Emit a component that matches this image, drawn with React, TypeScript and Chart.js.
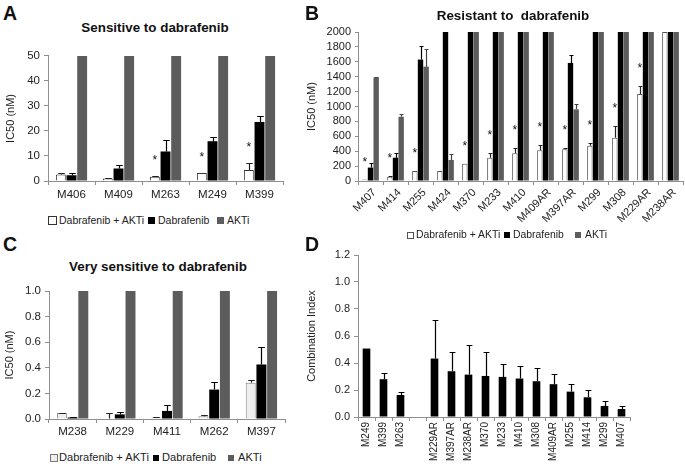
import React, { useEffect, useRef } from 'react';
import { Chart, registerables } from 'chart.js';

Chart.register(...registerables);

const FONT = "'Liberation Sans', Arial, Helvetica, sans-serif";
Chart.defaults.font.family = FONT;

const seriesNames = ['Dabrafenib + AKTi', 'Dabrafenib', 'AKTi'];

// ---------- Panel A : Sensitive to dabrafenib ----------
const catsA = ['M406', 'M409', 'M263', 'M249', 'M399'];
const comboA = [2.6, 1.0, 1.7, 3.2, 4.4];
const comboErrA = [0.4, 0.3, 0.2, 0, 2.9];
const dabA = [2.3, 5.0, 11.8, 15.9, 23.6];
const dabErrA = [1.0, 1.4, 4.5, 1.5, 2.3];
const aktiA = [50, 50, 50, 50, 50];
const starsA = [false, false, true, true, true];
const ticksA = [0, 10, 20, 30, 40, 50];

// ---------- Panel B : Resistant to dabrafenib ----------
const catsB = ['M407', 'M414', 'M255', 'M424', 'M370', 'M233', 'M410', 'M409AR', 'M397AR', 'M299', 'M308', 'M229AR', 'M238AR'];
const comboB = [20, 58, 134, 134, 230, 313, 371, 412, 425, 473, 582, 1167, 2000];
const comboErrB = [0, 8, 0, 0, 0, 67, 72, 76, 18, 42, 156, 111, 0];
const dabB = [180, 313, 1630, 2000, 2000, 2000, 2000, 2000, 1585, 2000, 2000, 2000, 2000];
const dabErrB = [56, 58, 185, 0, 0, 0, 0, 0, 110, 0, 0, 0, 0];
const aktiB = [1390, 862, 1535, 282, 2000, 2000, 2000, 2000, 962, 2000, 2000, 2000, 2000];
const aktiErrB = [10, 33, 235, 76, 0, 0, 0, 0, 78, 0, 0, 0, 0];
const starsB = [true, true, true, false, true, true, true, true, true, true, true, true, false];
const ticksB = [0, 200, 400, 600, 800, 1000, 1200, 1400, 1600, 1800, 2000];

// ---------- Panel C : Very sensitive to dabrafenib ----------
const catsC = ['M238', 'M229', 'M411', 'M262', 'M397'];
const comboC = [0.047, 0.003, 0.012, 0.022, 0.284];
const comboErrC = [0.003, 0.047, 0.003, 0.012, 0.02];
const dabC = [0.012, 0.036, 0.063, 0.23, 0.426];
const dabErrC = [0.003, 0.02, 0.045, 0.056, 0.14];
const aktiC = [1, 1, 1, 1, 1];
const ticksC = [0, 0.2, 0.4, 0.6, 0.8, 1.0];

// ---------- Panel D : Combination Index ----------
const catsD = ['M249', 'M399', 'M263', '', 'M229AR', 'M397AR', 'M238AR', 'M370', 'M233', 'M410', 'M308', 'M409AR', 'M255', 'M414', 'M299', 'M407'];
const ciD = [0.507, 0.28, 0.163, null, 0.433, 0.339, 0.314, 0.304, 0.297, 0.285, 0.265, 0.243, 0.188, 0.146, 0.082, 0.059];
const ciErrD = [0, 0.047, 0.023, null, 0.289, 0.141, 0.223, 0.176, 0.099, 0.094, 0.096, 0.079, 0.059, 0.052, 0.039, 0.02];
const ticksD = [0, 0.2, 0.4, 0.6, 0.8, 1.0, 1.2];

const AXIS = '#8f8f8f';
const TXT = '#222';

const errorBarPlugin = {
  id: 'errbars',
  afterDatasetsDraw(chart: any) {
    const { ctx, chartArea } = chart;
    const ys = chart.scales.y;
    ctx.save();
    chart.data.datasets.forEach((ds: any, i: number) => {
      const errs = ds.errors;
      if (!errs) return;
      const meta = chart.getDatasetMeta(i);
      meta.data.forEach((bar: any, j: number) => {
        const v = ds.data[j];
        const e = errs[j];
        if (v == null || !e) return;
        const topRaw = ys.getPixelForValue(v + e);
        if (topRaw < chartArea.top - 0.5) return;
        const top = Math.round(topRaw) + 0.5;
        const x = Math.round(bar.x) + 0.5;
        const half = Math.max(2, bar.width * (ds.capRatio || 0.33));
        ctx.strokeStyle = ds.errorColor || '#000';
        ctx.lineWidth = 1.2;
        ctx.beginPath();
        ctx.moveTo(x, bar.y);
        ctx.lineTo(x, top);
        ctx.moveTo(x - half, top);
        ctx.lineTo(x + half, top);
        ctx.stroke();
      });
      if (ds.stars) {
        ctx.fillStyle = '#111';
        ctx.font = `12px ${FONT}`;
        ctx.textAlign = 'center';
        ctx.textBaseline = 'alphabetic';
        meta.data.forEach((bar: any, j: number) => {
          if (!ds.stars[j]) return;
          const v = ds.data[j] + (errs[j] || 0);
          const top = ys.getPixelForValue(v);
          const cy = top - (ds.starGap || 20);
          ctx.fillText('*', bar.x, cy + 7);
        });
      }
    });
    ctx.restore();
  },
};

type PanelCfg = {
  left: number; top: number; w: number; h: number;
  padTop: number; padRight: number; yW: number; xH: number;
  labels: string[]; datasets: any[]; ticks: number[]; max: number;
  fmt: (v: number) => string; yTitle: string; yTitlePad: number;
  xFont: number; yFont: number; rotation: number; xPad: number; xLabelOffset: number;
  yTickLen: number; yPad: number;
};

function ChartPanel({ cfg }: { cfg: PanelCfg }) {
  const ref = useRef<HTMLCanvasElement | null>(null);
  useEffect(() => {
    if (!ref.current) return;
    const chart = new Chart(ref.current, {
      type: 'bar',
      data: { labels: cfg.labels, datasets: cfg.datasets },
      plugins: [errorBarPlugin],
      options: {
        responsive: false,
        animation: false,
        devicePixelRatio: 1,
        layout: { padding: { top: cfg.padTop, right: cfg.padRight, left: 0, bottom: 0 } },
        plugins: { legend: { display: false }, tooltip: { enabled: false }, title: { display: false } },
        scales: {
          x: {
            type: 'category',
            offset: true,
            grid: { display: true, drawOnChartArea: false, drawTicks: true, tickLength: 4, color: AXIS, tickColor: AXIS, offset: true },
            border: { display: true, color: AXIS, width: 1 },
            ticks: {
              autoSkip: false,
              maxRotation: cfg.rotation,
              minRotation: cfg.rotation,
              padding: cfg.xPad,
              labelOffset: cfg.xLabelOffset,
              color: TXT,
              font: { size: cfg.xFont, family: FONT },
            },
            afterFit: (s: any) => { s.height = cfg.xH; },
          },
          y: {
            type: 'linear',
            min: 0,
            max: cfg.max,
            grid: { display: true, drawOnChartArea: false, drawTicks: true, tickLength: cfg.yTickLen, color: AXIS, tickColor: AXIS },
            border: { display: true, color: AXIS, width: 1 },
            ticks: {
              autoSkip: false,
              padding: cfg.yPad,
              color: TXT,
              font: { size: cfg.yFont, family: FONT },
              callback: (v: any) => cfg.fmt(Number(v)),
            },
            afterBuildTicks: (s: any) => { s.ticks = cfg.ticks.map((v) => ({ value: v })); },
            title: {
              display: true,
              text: cfg.yTitle,
              color: TXT,
              font: { size: 11, family: FONT },
              padding: { top: cfg.yTitlePad, bottom: 0 },
            },
            afterFit: (s: any) => { s.width = cfg.yW; },
          },
        },
      } as any,
    });
    return () => chart.destroy();
  }, [cfg]);
  return (
    <canvas
      ref={ref}
      width={cfg.w}
      height={cfg.h}
      style={{ position: 'absolute', left: cfg.left, top: cfg.top, width: cfg.w, height: cfg.h }}
    />
  );
}

function triple(combo: number[], comboErr: number[], dab: number[], dabErr: number[], akti: number[], aktiErr: number[] | null,
  stars: boolean[] | null, starGap: number, comboFill: string, comboBorder: string, cat: number, bar: number) {
  return [
    { label: seriesNames[0], data: combo, errors: comboErr, stars, starGap, backgroundColor: comboFill, borderColor: comboBorder, borderWidth: 1, categoryPercentage: cat, barPercentage: bar, errorColor: '#222' },
    { label: seriesNames[1], data: dab, errors: dabErr, backgroundColor: '#000', borderWidth: 0, categoryPercentage: cat, barPercentage: bar, errorColor: '#000' },
    { label: seriesNames[2], data: akti, errors: aktiErr, backgroundColor: '#5c5c5c', borderWidth: 0, categoryPercentage: cat, barPercentage: bar, errorColor: '#444' },
  ];
}

const intFmt = (v: number) => String(Math.round(v));
const decFmt = (v: number) => v.toFixed(1);

const cfgA: PanelCfg = {
  left: 0, top: 45, w: 295, h: 160, padTop: 8, padRight: 12, yW: 48, xH: 24,
  labels: catsA, datasets: triple(comboA, comboErrA, dabA, dabErrA, aktiA, null, starsA, 19, '#ffffff', '#333', 0.68, 0.93),
  ticks: ticksA, max: 50, fmt: intFmt, yTitle: 'IC50 (nM)', yTitlePad: 4.4, xFont: 11.5, yFont: 11.5, rotation: 0, xPad: 3, xLabelOffset: 0, yTickLen: 4, yPad: 4,
};
const cfgB: PanelCfg = {
  left: 300, top: 20, w: 385, h: 212, padTop: 12, padRight: 2, yW: 58, xH: 51,
  labels: catsB, datasets: triple(comboB, comboErrB, dabB, dabErrB, aktiB, aktiErrB, starsB, 21, '#ffffff', '#555', 0.68, 0.95),
  ticks: ticksB, max: 2000, fmt: intFmt, yTitle: 'IC50 (nM)', yTitlePad: 5.4, xFont: 11, yFont: 11, rotation: 45, xPad: 1, xLabelOffset: 4, yTickLen: 3, yPad: 4,
};
const cfgC: PanelCfg = {
  left: 0, top: 280, w: 295, h: 165, padTop: 11, padRight: 10, yW: 49, xH: 26,
  labels: catsC, datasets: triple(comboC, comboErrC, dabC, dabErrC, aktiC, null, null, 19, '#eeeeee', '#888', 0.68, 0.93),
  ticks: ticksC, max: 1, fmt: decFmt, yTitle: 'IC50 (nM)', yTitlePad: 3.5, xFont: 11.5, yFont: 11.5, rotation: 0, xPad: 2, xLabelOffset: 0, yTickLen: 4, yPad: 4,
};
const cfgD: PanelCfg = {
  left: 300, top: 240, w: 340, h: 224, padTop: 15, padRight: 10, yW: 58, xH: 47,
  labels: catsD,
  datasets: [{ label: 'Combination Index', data: ciD, errors: ciErrD, backgroundColor: '#000', borderWidth: 0, categoryPercentage: 0.45, barPercentage: 1, errorColor: '#000', capRatio: 0.38 }],
  ticks: ticksD, max: 1.2, fmt: decFmt, yTitle: 'Combination Index', yTitlePad: 5.4, xFont: 10, yFont: 11, rotation: 90, xPad: 1, xLabelOffset: 0, yTickLen: 4, yPad: 4,
};

type LegendItem = { sx: number; size: number; fill: string; border?: string; tx: number; text: string };

function Legend({ y, font, items }: { y: number; font: number; items: LegendItem[] }) {
  return (
    <>
      {items.map((it, i) => (
        <React.Fragment key={i}>
          <div style={{
            position: 'absolute', left: it.sx, top: y - it.size / 2, width: it.size, height: it.size,
            background: it.fill, border: it.border ? `1px solid ${it.border}` : 'none', boxSizing: 'border-box',
          }} />
          <div style={{
            position: 'absolute', left: it.tx, top: y, transform: 'translateY(-50%)', fontSize: font,
            lineHeight: 1, whiteSpace: 'pre', color: TXT,
          }}>{it.text}</div>
        </React.Fragment>
      ))}
    </>
  );
}

function Label({ x, y, size, bold, text, center }: { x: number; y: number; size: number; bold?: boolean; text: string; center?: boolean }) {
  return (
    <div style={{
      position: 'absolute', left: x, top: y, transform: center ? 'translate(-50%, -50%)' : 'translateY(-50%)',
      fontSize: size, fontWeight: bold ? 'bold' : 'normal', lineHeight: 1, whiteSpace: 'pre', color: '#111',
    }}>{text}</div>
  );
}

export default function App() {
  return (
    <div style={{ position: 'absolute', left: 0, top: 0, width: 685, height: 464, background: '#fff', fontFamily: FONT, overflow: 'hidden' }}>
      <ChartPanel cfg={cfgA} />
      <ChartPanel cfg={cfgB} />
      <ChartPanel cfg={cfgC} />
      <ChartPanel cfg={cfgD} />

      <Label x={3} y={14} size={19.5} bold text="A" />
      <Label x={305} y={14} size={19.5} bold text="B" />
      <Label x={3} y={245} size={19.5} bold text="C" />
      <Label x={305} y={245} size={19.5} bold text="D" />

      <Label x={155} y={28} size={13.4} bold center text="Sensitive to dabrafenib" />
      <Label x={513} y={15.5} size={13.4} bold center text="Resistant to  dabrafenib" />
      <Label x={158} y={267} size={13.4} bold center text="Very sensitive to dabrafenib" />

      <Legend y={220} font={10.5} items={[
        { sx: 48, size: 9, fill: '#fff', border: '#333', tx: 59, text: seriesNames[0] },
        { sx: 148, size: 7, fill: '#000', tx: 158, text: seriesNames[1] },
        { sx: 217, size: 7, fill: '#5c5c5c', tx: 227, text: seriesNames[2] },
      ]} />
      <Legend y={235} font={10.4} items={[
        { sx: 407, size: 7, fill: '#fff', border: '#555', tx: 416, text: seriesNames[0] },
        { sx: 504, size: 6, fill: '#000', tx: 513, text: seriesNames[1] },
        { sx: 575, size: 6, fill: '#5c5c5c', tx: 585, text: seriesNames[2] },
      ]} />
      <Legend y={458} font={11.1} items={[
        { sx: 50, size: 8, fill: '#eee', border: '#777', tx: 59, text: seriesNames[0] },
        { sx: 153, size: 6, fill: '#000', tx: 162, text: seriesNames[1] },
        { sx: 228, size: 6, fill: '#5c5c5c', tx: 238, text: seriesNames[2] },
      ]} />
    </div>
  );
}
